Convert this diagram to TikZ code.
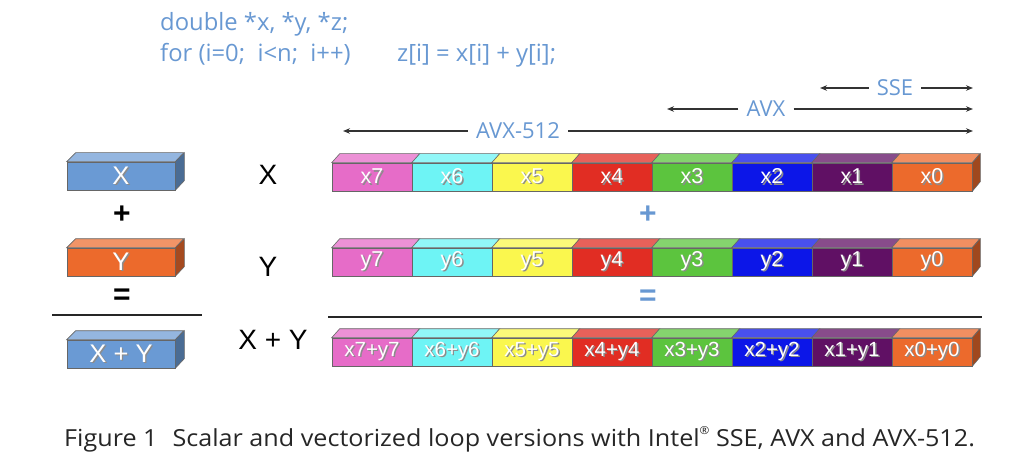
\documentclass[tikz,border=0pt]{standalone}
\usepackage{fontspec}
\newfontfamily\clearfont{Open Sans}
\newfontfamily\arialfont{Liberation Sans}
\usetikzlibrary{arrows.meta}

\definecolor{codeblue}{RGB}{104,152,210}
\definecolor{boxblue}{RGB}{106,154,212}
\definecolor{cpink}{RGB}{230,108,200}
\definecolor{ccyan}{RGB}{110,244,245}
\definecolor{cyellow}{RGB}{250,247,78}
\definecolor{cred}{RGB}{225,45,35}
\definecolor{cgreen}{RGB}{92,196,62}
\definecolor{cblue}{RGB}{12,22,232}
\definecolor{cpurple}{RGB}{96,16,100}
\definecolor{corange}{RGB}{236,106,44}

% white label with a soft grey shadow
\newcommand\shd[1]{\makebox[0pt][l]{\kern1.4pt\raisebox{-1.4pt}{\textcolor{black!45}{#1}}}#1}

\begin{document}
\begin{tikzpicture}[x=1pt,y=-1pt,
  edge/.style={draw=black!60, line width=0.6pt},
  cellfront/.style={edge, minimum width=80pt, minimum height=28pt, inner sep=0pt,
    text=white, font=\arialfont\fontsize{21.5}{21.5}\selectfont},
  sumfront/.style={cellfront, font=\arialfont\fontsize{20.5}{20.5}\selectfont},
  scalarbox/.style={edge, minimum width=108pt, minimum height=28pt, inner sep=0pt,
    text=white, font=\arialfont\fontsize{25.5}{25.5}\selectfont},
  codetext/.style={text=codeblue, inner sep=0pt, font=\clearfont\fontsize{23.8}{23.8}\selectfont},
  isalabel/.style={codetext, font=\clearfont\fontsize{22}{22}\selectfont},
  isaarrow/.style={-{Stealth[length=7pt,width=5.5pt]}, line width=1.1pt, black!80},
  rowlabel/.style={inner sep=0pt, font=\arialfont\fontsize{28}{28}\selectfont},
  bigop/.style={inner sep=0pt, font=\arialfont\bfseries\fontsize{30}{30}\selectfont},
  blueop/.style={bigop, text=codeblue},
  rule/.style={line width=2.2pt, black!85}]

\useasboundingbox (0,0) rectangle (1012,468);

% source code
\node[codetext, anchor=base west] (decl) at (160,31) {double *x, *y, *z;};
\node[codetext, anchor=base west] (loop) at (160,62) {for (i=0;\ \ i<n;\ \ i++)};
\node[codetext, anchor=base west] (body) at (397,62) {z[i] = x[i] + y[i];};

% register widths
\coordinate (sseL) at (820,88);  \coordinate (sseR) at (973,88);
\coordinate (avxL) at (667,109); \coordinate (avxR) at (973,109);
\coordinate (zmmL) at (343,131); \coordinate (zmmR) at (973,131);
\node[isalabel] (sse) at (895,88) {SSE};
\node[isalabel] (avx) at (766,109) {AVX};
\node[isalabel] (zmm) at (518,131) {AVX-512};
\draw[isaarrow] ([xshift=-8pt]sse.west) -- (sseL);
\draw[isaarrow] ([xshift=8pt]sse.east) -- (sseR);
\draw[isaarrow] ([xshift=-8pt]avx.west) -- (avxL);
\draw[isaarrow] ([xshift=8pt]avx.east) -- (avxR);
\draw[isaarrow] ([xshift=-8pt]zmm.west) -- (zmmL);
\draw[isaarrow] ([xshift=8pt]zmm.east) -- (zmmR);

% scalar version
\node[scalarbox, fill=boxblue] (sx) at (121,176) {\shd{X}};
\node[scalarbox, fill=corange] (sy) at (121,262) {\shd{Y}};
\node[scalarbox, fill=boxblue] (sz) at (121,354) {\shd{X + Y}};
\foreach \b/\c in {sx/boxblue, sy/corange, sz/boxblue}{
  \filldraw[edge, fill=\c!72!white] (\b.north west) -- ++(9,-9) -- ++(108,0) -- (\b.north east) -- cycle;
  \filldraw[edge, fill=\c!70!black] (\b.north east) -- ++(9,-9) -- ++(0,28) -- (\b.south east) -- cycle;
}
\node[bigop] (splus) at (122,215) {+};
\node[bigop] (seq) at (122,297) {=};
\coordinate (ruleAL) at (52,315); \coordinate (ruleAR) at (202,315);
\draw[rule] (ruleAL) -- (ruleAR);

% row names
\node[rowlabel] (lx) at (268,175) {X};
\node[rowlabel] (ly) at (268,267) {Y};
\node[rowlabel] (lxy) at (273,340) {X + Y};

% vector version
\foreach \i/\c [count=\k from 0] in {7/cpink,6/ccyan,5/cyellow,4/cred,3/cgreen,2/cblue,1/cpurple,0/corange}{
  \pgfmathsetmacro{\xl}{332+80*\k}
  \node[cellfront, fill=\c] (x\i) at ({\xl+40},177) {\shd{x\i}};
  \node[cellfront, fill=\c] (y\i) at ({\xl+40},262) {\shd{y\i}};
  \node[sumfront, fill=\c] (s\i) at ({\xl+40},352) {\shd{x\i+y\i}};
  \foreach \r in {x,y,s}{
    \filldraw[edge, fill=\c!75!white] (\r\i.north west) -- ++(8,-9) -- ++(80,0) -- (\r\i.north east) -- cycle;
  }
}
\foreach \r in {x,y,s}{
  \filldraw[edge, fill=corange!68!black] (\r0.north east) -- ++(8,-9) -- ++(0,28) -- (\r0.south east) -- cycle;
}
\node[blueop] (vplus) at (648,215) {+};
\node[blueop] (veq) at (648,298) {=};
\coordinate (ruleBL) at (328,317); \coordinate (ruleBR) at (982,317);
\draw[rule] (ruleBL) -- (ruleBR);

% caption
\node[anchor=base west, inner sep=0pt, text=black!85, font=\clearfont\fontsize{23.5}{23.5}\selectfont] (cap) at (64,446)
  {\scalebox{1.07}[1]{Figure 1\hspace{0.6em}Scalar and vectorized loop versions with Intel\raisebox{0.5em}{\fontsize{11}{11}\selectfont®}\ SSE, AVX and AVX-512.}};
\end{tikzpicture}
\end{document}
